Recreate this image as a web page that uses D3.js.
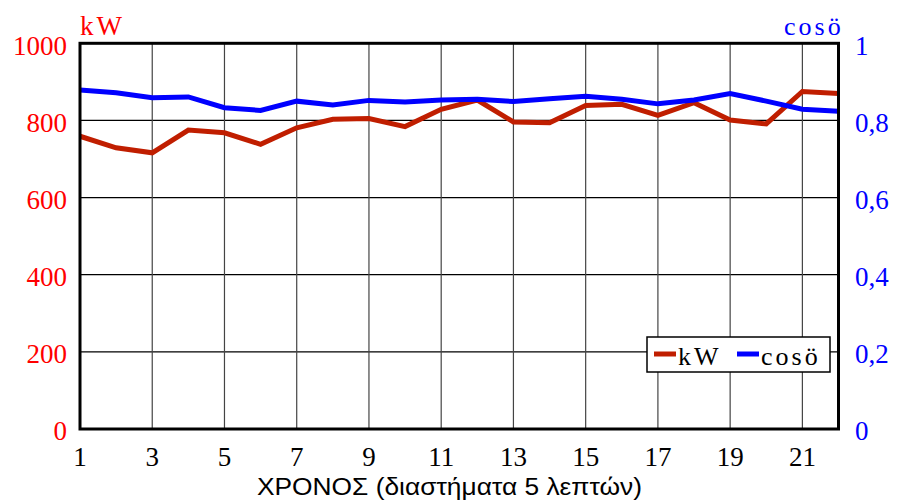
<!DOCTYPE html>
<html><head><meta charset="utf-8">
<script src="https://cdn.jsdelivr.net/npm/d3@7"></script>
<style>body{margin:0;background:#fff}svg{display:block}</style>
</head><body><svg id="c" width="897" height="500"></svg>
<script>
const periods = [1,2,3,4,5,6,7,8,9,10,11,12,13,14,15,16,17,18,19,20,21,22];
const kW = [759,729,716,775,768,738,781,803,805,784,829,853,796,794,839,842,813,846,801,791,875,870];
const cosPhi = [0.879,0.872,0.859,0.861,0.833,0.826,0.850,0.840,0.852,0.848,0.853,0.855,0.849,0.856,0.863,0.855,0.843,0.853,0.870,0.850,0.829,0.824];
const xTicks = [1,3,5,7,9,11,13,15,17,19,21];
const leftTicks = [0,200,400,600,800,1000];
const rightTicks = [0,0.2,0.4,0.6,0.8,1];
const rightTickLabels = ["0","0,2","0,4","0,6","0,8","1"];
const seriesNames = ["kW","cosö"];
const xTitle = "ΧΡΟΝΟΣ (διαστήματα 5 λεπτών)";

const svg = d3.select("#c");
const L=80, R=838.5, T=43.3, B=429;
const x = d3.scaleLinear().domain([1,22]).range([L,R]);
const yL = d3.scaleLinear().domain([0,1000]).range([B,T]);
const yR = d3.scaleLinear().domain([0,1]).range([B,T]);
const serif = "'Liberation Serif','Times New Roman',serif";
const RED="#c01e00", BLUE="#0000ff";

svg.append("rect").attr("width",897).attr("height",500).attr("fill","#fff");

// grid
svg.append("g").selectAll("line").data([200,400,600,800]).join("line")
  .attr("x1",L).attr("x2",R).attr("y1",d=>yL(d)).attr("y2",d=>yL(d))
  .attr("stroke","#000").attr("stroke-width",1.2);
svg.append("g").selectAll("line").data(xTicks.filter(d=>d>1)).join("line")
  .attr("y1",T).attr("y2",B).attr("x1",d=>x(d)).attr("x2",d=>x(d))
  .attr("stroke","#444").attr("stroke-width",1.2);

// lines
const lineK = d3.line().x((d,i)=>x(periods[i])).y(d=>yL(d));
const lineC = d3.line().x((d,i)=>x(periods[i])).y(d=>yR(d));
svg.append("path").datum(kW).attr("d",lineK).attr("fill","none").attr("stroke",RED).attr("stroke-width",5).attr("stroke-linejoin","miter");
svg.append("path").datum(cosPhi).attr("d",lineC).attr("fill","none").attr("stroke",BLUE).attr("stroke-width",5).attr("stroke-linejoin","miter");

// border
svg.append("rect").attr("x",L).attr("y",T).attr("width",R-L).attr("height",B-T)
  .attr("fill","none").attr("stroke","#000").attr("stroke-width",3);

// left ticks
svg.append("g").selectAll("text").data(leftTicks).join("text")
  .attr("x",67).attr("y",d=>yL(d)).attr("dy","0.42em").attr("text-anchor","end")
  .attr("font-family",serif).attr("font-size",27).attr("fill","#ff0000").text(d=>d);
// right ticks
svg.append("g").selectAll("text").data(rightTicks).join("text")
  .attr("x",855).attr("y",d=>yR(d)).attr("dy","0.42em").attr("text-anchor","start")
  .attr("font-family",serif).attr("font-size",27).attr("fill",BLUE).text((d,i)=>rightTickLabels[i]);
// x ticks
svg.append("g").selectAll("text").data(xTicks).join("text")
  .attr("x",d=>x(d)).attr("y",466).attr("text-anchor","middle")
  .attr("font-family",serif).attr("font-size",27).attr("fill","#000").text(d=>d);

// axis titles
svg.append("text").attr("x",80).attr("y",35).attr("font-family",serif).attr("font-size",27)
  .attr("letter-spacing",3).attr("fill","#ff0000").text(seriesNames[0]);
svg.append("text").attr("x",784).attr("y",35).attr("font-family",serif).attr("font-size",26)
  .attr("letter-spacing",3).attr("fill",BLUE).text(seriesNames[1]);
svg.append("text").attr("x",257).attr("y",495)
  .attr("textLength",385).attr("lengthAdjust","spacingAndGlyphs")
  .attr("font-family","'Liberation Sans',Arial,sans-serif").attr("font-size",23.5).attr("fill","#000").text(xTitle);

// legend
const lg = svg.append("g");
lg.append("rect").attr("x",647).attr("y",337).attr("width",183).attr("height",35)
  .attr("fill","#fff").attr("stroke","#000").attr("stroke-width",1.5);
const items = [{n:seriesNames[0],c:RED,x:654},{n:seriesNames[1],c:BLUE,x:737}];
items.forEach(it=>{
  lg.append("line").attr("x1",it.x).attr("x2",it.x+22).attr("y1",354).attr("y2",354)
    .attr("stroke",it.c).attr("stroke-width",5);
  lg.append("text").attr("x",it.x+24).attr("y",365).attr("font-family",serif).attr("font-size",26)
    .attr("letter-spacing",3).attr("fill","#000").text(it.n);
});
</script></body></html>
